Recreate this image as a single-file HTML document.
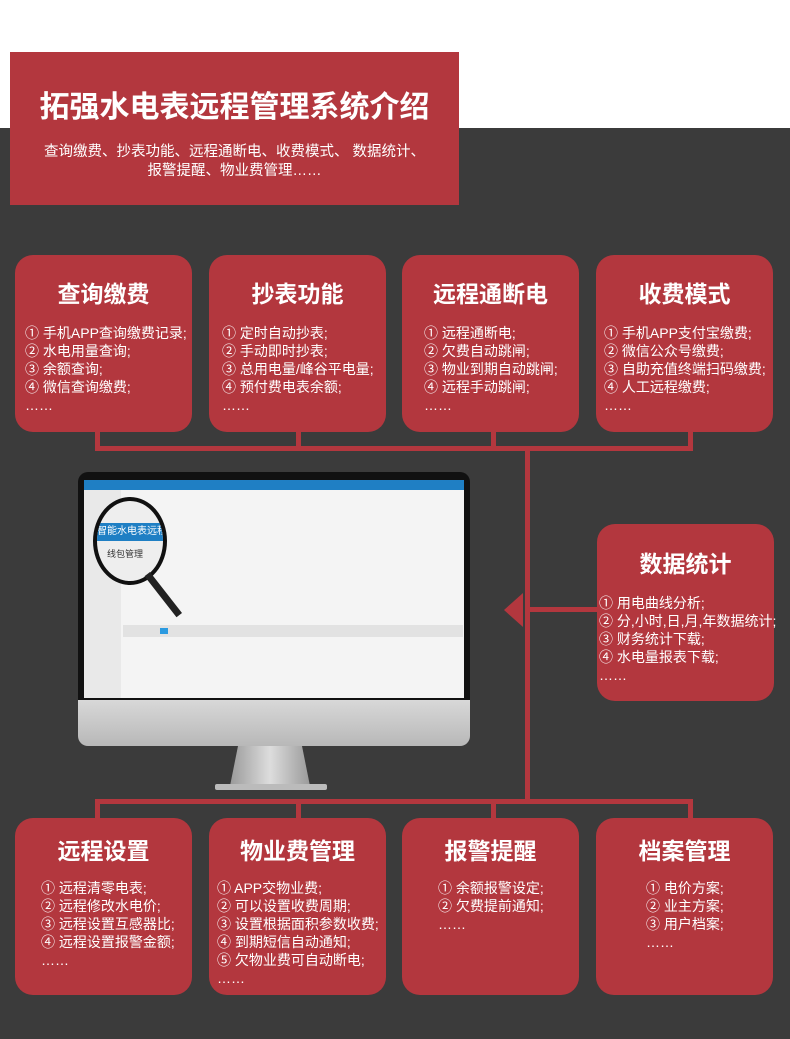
<!DOCTYPE html>
<html><head><meta charset="utf-8"><style>
body{margin:0;width:790px;height:1039px;position:relative;overflow:hidden;background:#fff;font-family:"Liberation Sans","Noto Sans CJK SC",sans-serif;}
.bg{position:absolute;left:0;top:128px;width:790px;height:911px;background:#3b3b3b;}
.r{position:absolute;background:#b3373e;}
.card{position:absolute;width:177px;height:177px;background:#b3373e;border-radius:18px;color:#fff;}
.card h3{margin:0;position:absolute;top:23px;left:0;width:100%;text-align:center;font-size:23px;font-weight:bold;line-height:32px;}
.card .l{position:absolute;font-size:14px;line-height:18px;white-space:nowrap;}
.l span{display:block}
</style></head><body>
<div class="bg"></div>
<div class="r" style="left:10px;top:52px;width:449px;height:153px;"></div>
<div style="position:absolute;left:10px;top:88px;width:449px;text-align:center;color:#fff;font-size:30px;font-weight:bold;line-height:40px;">拓强水电表远程管理系统介绍</div>
<div style="position:absolute;left:10px;top:143px;width:449px;text-align:center;color:#fff;font-size:14.5px;line-height:19px;">查询缴费、抄表功能、远程通断电、收费模式、 数据统计、<br>报警提醒、物业费管理……</div>

<div class="r" style="left:95px;top:430px;width:5px;height:20px"></div>
<div class="r" style="left:296px;top:430px;width:5px;height:20px"></div>
<div class="r" style="left:491px;top:430px;width:5px;height:20px"></div>
<div class="r" style="left:688px;top:430px;width:5px;height:20px"></div>
<div class="r" style="left:95px;top:446px;width:598px;height:5px"></div>
<div class="r" style="left:525px;top:446px;width:5px;height:357px"></div>
<div class="r" style="left:525px;top:607px;width:75px;height:5px"></div>
<div style="position:absolute;left:504px;top:593px;width:0;height:0;border-top:17px solid transparent;border-bottom:17px solid transparent;border-right:19px solid #b3373e;"></div>
<div class="r" style="left:95px;top:799px;width:598px;height:5px"></div>
<div class="r" style="left:95px;top:799px;width:5px;height:22px"></div>
<div class="r" style="left:296px;top:799px;width:5px;height:22px"></div>
<div class="r" style="left:491px;top:799px;width:5px;height:22px"></div>
<div class="r" style="left:688px;top:799px;width:5px;height:22px"></div>

<div style="position:absolute;left:78px;top:472px;width:392px;height:230px;background:#111;border-radius:10px 10px 0 0;"></div>
<div style="position:absolute;left:84px;top:480px;width:380px;height:218px;background:#f4f4f4;"></div>
<div style="position:absolute;left:84px;top:480px;width:380px;height:10px;background:#1f7fc4;"></div>
<div style="position:absolute;left:84px;top:490px;width:37px;height:208px;background:#e9e9e9;"></div>
<div style="position:absolute;left:123px;top:625px;width:340px;height:12px;background:#e2e2e2;"></div>
<div style="position:absolute;left:160px;top:628px;width:8px;height:6px;background:#2b9ae0;"></div>
<div style="position:absolute;left:78px;top:700px;width:392px;height:46px;background:linear-gradient(#d8d8d8,#b8b8b8);border-radius:0 0 10px 10px;"></div>
<div style="position:absolute;left:230px;top:746px;width:80px;height:40px;background:linear-gradient(90deg,#9a9a9a,#ddd,#9a9a9a);clip-path:polygon(10% 0,90% 0,100% 100%,0 100%);"></div>
<div style="position:absolute;left:215px;top:784px;width:112px;height:6px;background:#bbb;border-radius:2px;"></div>
<div style="position:absolute;left:93px;top:497px;width:66px;height:80px;border-radius:50%;border:4px solid #111;background:#eee;overflow:hidden;">
<div style="position:absolute;left:0;top:22px;width:66px;height:18px;background:#1f7fc4;color:#fff;font-size:10px;line-height:18px;white-space:nowrap;">智能水电表远程</div>
<div style="position:absolute;left:10px;top:46px;font-size:9px;color:#333;">线包管理</div>
</div>
<div style="position:absolute;left:150px;top:572px;width:52px;height:7px;background:#222;transform:rotate(52deg);transform-origin:0 0;"></div>

<div class="card" style="left:15px;top:255px"><h3>查询缴费</h3><div class="l" style="left:10px;top:69px"><span>① 手机APP查询缴费记录;</span><span>② 水电用量查询;</span><span>③ 余额查询;</span><span>④ 微信查询缴费;</span><span>……</span></div></div>
<div class="card" style="left:209px;top:255px"><h3>抄表功能</h3><div class="l" style="left:13px;top:69px"><span>① 定时自动抄表;</span><span>② 手动即时抄表;</span><span>③ 总用电量/峰谷平电量;</span><span>④ 预付费电表余额;</span><span>……</span></div></div>
<div class="card" style="left:402px;top:255px"><h3>远程通断电</h3><div class="l" style="left:22px;top:69px"><span>① 远程通断电;</span><span>② 欠费自动跳闸;</span><span>③ 物业到期自动跳闸;</span><span>④ 远程手动跳闸;</span><span>……</span></div></div>
<div class="card" style="left:596px;top:255px"><h3>收费模式</h3><div class="l" style="left:8px;top:69px"><span>① 手机APP支付宝缴费;</span><span>② 微信公众号缴费;</span><span>③ 自助充值终端扫码缴费;</span><span>④ 人工远程缴费;</span><span>……</span></div></div>

<div class="card" style="left:597px;top:524px;height:177px"><h3 style="top:24px">数据统计</h3><div class="l" style="left:2px;top:70px"><span>① 用电曲线分析;</span><span>② 分,小时,日,月,年数据统计;</span><span>③ 财务统计下载;</span><span>④ 水电量报表下载;</span><span>……</span></div></div>

<div class="card" style="left:15px;top:818px"><h3 style="top:17px">远程设置</h3><div class="l" style="left:26px;top:61px"><span>① 远程清零电表;</span><span>② 远程修改水电价;</span><span>③ 远程设置互感器比;</span><span>④ 远程设置报警金额;</span><span>……</span></div></div>
<div class="card" style="left:209px;top:818px"><h3 style="top:17px">物业费管理</h3><div class="l" style="left:8px;top:61px"><span>① APP交物业费;</span><span>② 可以设置收费周期;</span><span>③ 设置根据面积参数收费;</span><span>④ 到期短信自动通知;</span><span>⑤ 欠物业费可自动断电;</span><span>……</span></div></div>
<div class="card" style="left:402px;top:818px"><h3 style="top:17px">报警提醒</h3><div class="l" style="left:36px;top:61px"><span>① 余额报警设定;</span><span>② 欠费提前通知;</span><span>……</span></div></div>
<div class="card" style="left:596px;top:818px"><h3 style="top:17px">档案管理</h3><div class="l" style="left:50px;top:61px"><span>① 电价方案;</span><span>② 业主方案;</span><span>③ 用户档案;</span><span>……</span></div></div>
</body></html>
